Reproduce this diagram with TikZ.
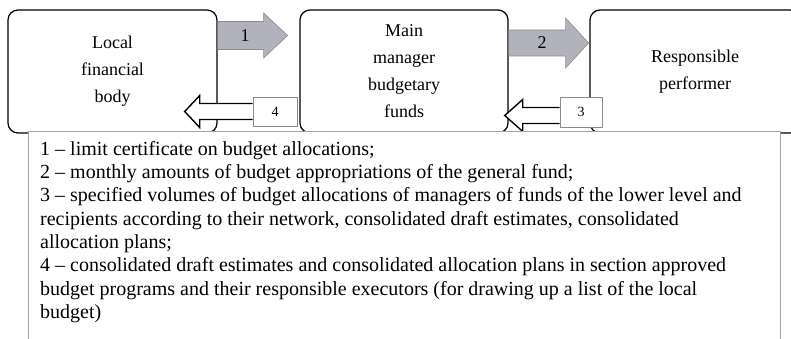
\documentclass[tikz,border=0pt]{standalone}
\usepackage{fontspec}
\setmainfont{Liberation Serif}
\usetikzlibrary{calc}
\definecolor{arrowgray}{RGB}{178,178,188}
\definecolor{edgegray}{RGB}{140,140,140}
\definecolor{framegray}{RGB}{165,165,165}

\begin{document}
\begin{tikzpicture}[x=1pt, y=-1pt,
	unit/.style={draw, line width=1.2pt, rounded corners=10pt, fill=white, align=center, inner sep=0pt, font=\fontsize{18}{27}\selectfont},
	tag/.style={draw=edgegray, fill=white, line width=0.6pt, inner sep=0pt, minimum width=44pt, minimum height=29pt, font=\fontsize{14}{16}\selectfont},
	grayarrow/.style={draw=edgegray, fill=arrowgray, line width=0.6pt},
	hollowarrow/.style={draw, fill=white, line width=1.4pt, line join=miter},
	numlabel/.style={inner sep=0pt, font=\fontsize{18}{20}\selectfont}]
\useasboundingbox (0,0) rectangle (791,339);

% the three units
\node[unit, minimum width=209pt, minimum height=123pt] (lfb) at (112.5,71.5) {Local\\financial\\body};
\node[unit, minimum width=208pt, minimum height=123pt] (mmb) at (404,71.5) {Main\\manager\\budgetary\\funds};
\node[unit, minimum width=210pt, minimum height=123pt] (rp) at (695,71.5) {Responsible\\performer};

% forward flows
\draw[grayarrow] (lfb.east |- 0,21.5) -- ++(46,0) -- ++(0,-8.5) -- ++(24,22.5) -- ++(-24,22.5) -- ++(0,-8.5) -- ++(-46,0);
\node[numlabel] (n1) at (245,35.5) {1};
\draw[grayarrow] (mmb.east |- 0,30) -- ++(57,0) -- ++(0,-12) -- ++(23,25) -- ++(-23,25) -- ++(0,-12) -- ++(-57,0);
\node[numlabel] (n2) at (542,43) {2};

% backward flows
\node[tag] (t4) at (275,111.5) {4};
\draw[hollowarrow] ($(t4.west)+(0,-8)$) -- ++(-53,0) -- ++(0,-8) -- ++(-15,16) -- ++(15,16) -- ++(0,-8) -- ++(53,0);
\node[tag, minimum width=42pt, minimum height=30pt] (t3) at (581,112) {3};
\draw[hollowarrow] ($(t3.west)+(0,-4.5)$) -- ++(-37,0) -- ++(0,-8) -- ++(-18,16) -- ++(18,16) -- ++(0,-8) -- ++(37,0);

% legend
\draw[draw=framegray, fill=white, line width=0.8pt] (28,131) rectangle (780,350);
\node[anchor=north west, align=left, inner sep=0pt, font=\fontsize{20}{23.3}\selectfont] (key) at (40,141) {1 – limit certificate on budget allocations;\\
2 – monthly amounts of budget appropriations of the general fund;\\
3 – specified volumes of budget allocations of managers of funds of the lower level and\\
recipients according to their network, consolidated draft estimates, consolidated\\
allocation plans;\\
4 – consolidated draft estimates and consolidated allocation plans in section approved\\
budget programs and their responsible executors (for drawing up a list of the local\\
budget)};

\end{tikzpicture}
\end{document}
